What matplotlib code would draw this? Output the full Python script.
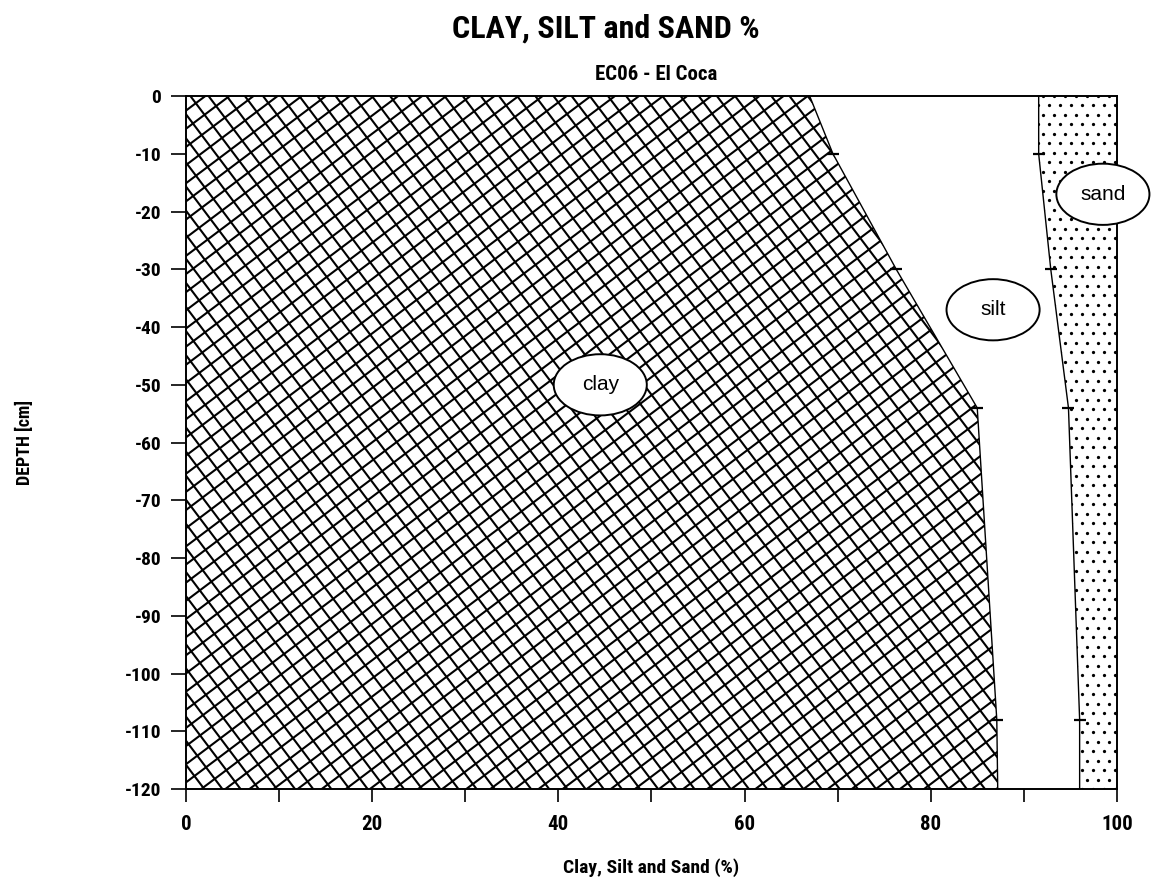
import numpy as np
import matplotlib
matplotlib.use("Agg")
import matplotlib.pyplot as plt
from matplotlib.patches import Ellipse
from matplotlib.collections import LineCollection
from matplotlib.transforms import IdentityTransform

# Data
depth = [0, -10, -30, -54, -108, -120]            # cm
clay = [67.0, 69.5, 76.3, 85.0, 87.1, 87.2]       # % clay (boundary clay/silt)
clay_silt = [91.6, 91.6, 92.9, 94.8, 96.0, 96.0]  # % clay + silt (boundary silt/sand)
labels = ["clay", "silt", "sand"]
label_x = [44.5, 86.7, 98.5]
label_y = [-50, -37, -17]
x_ticks = [0, 10, 20, 30, 40, 50, 60, 70, 80, 90, 100]
x_ticklabels = ["0", "", "20", "", "40", "", "60", "", "80", "", "100"]
y_ticks = [0, -10, -20, -30, -40, -50, -60, -70, -80, -90, -100, -110, -120]

FONT = ["Liberation Sans", "DejaVu Sans"]
COND = ["Roboto Condensed", "Liberation Sans", "DejaVu Sans"]
DPI = 100

fig = plt.figure(figsize=(11.52, 8.86), dpi=DPI)
ax = fig.add_axes([0.1615, 0.1095, 0.808, 0.782])
ax.set_xlim(0, 100)
ax.set_ylim(-120, 0)

full = [100] * len(depth)
zero = [0] * len(depth)
clay_poly = ax.fill_betweenx(depth, zero, clay, facecolor="white", linewidth=0)
sand_poly = ax.fill_betweenx(depth, clay_silt, full, facecolor="white", linewidth=0)

# --- texture: cross-hatching for clay (pixel-space pattern, clipped to the clay area)
bb = ax.bbox
corners = np.array([[bb.x0, bb.y0], [bb.x1, bb.y0], [bb.x0, bb.y1], [bb.x1, bb.y1]])
segs = []
SP = 14.5
for ang in (37.0, -53.0):
    th = np.radians(ang)
    d = np.array([np.cos(th), np.sin(th)])
    n = np.array([-np.sin(th), np.cos(th)])
    proj = corners @ n
    L = 3000
    for c in np.arange(proj.min() - SP, proj.max() + SP, SP):
        p = c * n
        segs.append([p - L * d, p + L * d])
lc = LineCollection(segs, colors="black", linewidths=1.5, transform=IdentityTransform(),
                    zorder=2)
lc.set_clip_path(clay_poly.get_paths()[0], ax.transData)
ax.add_collection(lc, autolim=False)

# --- texture: staggered dots for sand
xs, ys = [], []
row = 0
for yy in np.arange(bb.y0 - 10, bb.y1 + 10, 9.5):
    off = 5.5 if row % 2 else 0.0
    for xx in np.arange(bb.x0 - 12 + off, bb.x1 + 12, 11.0):
        xs.append(xx)
        ys.append(yy)
    row += 1
dots = ax.scatter(xs, ys, s=5.5, c="black", marker="o", linewidths=0,
                  transform=IdentityTransform(), zorder=2)
dots.set_clip_path(sand_poly.get_paths()[0], ax.transData)

# boundaries and measurement ticks
ax.plot(clay, depth, color="black", lw=1.0, zorder=3)
ax.plot(clay_silt, depth, color="black", lw=1.0, zorder=3)
ax.plot(clay[1:-1], depth[1:-1], ls="none", marker="_", ms=8, mew=1.6, color="black", zorder=3)
ax.plot(clay_silt[1:-1], depth[1:-1], ls="none", marker="_", ms=8, mew=1.6, color="black", zorder=3)

for lab, lx, ly in zip(labels, label_x, label_y):
    ax.add_patch(Ellipse((lx, ly), width=10, height=10.6, facecolor="white",
                         edgecolor="black", lw=1.4, zorder=5, clip_on=False))
    ax.text(lx, ly, lab, ha="center", va="center", fontsize=15, zorder=6, family=FONT)

ax.set_xticks(x_ticks)
ax.set_xticklabels(x_ticklabels, fontsize=15, fontweight="bold", family=COND)
ax.set_yticks(y_ticks)
ax.set_yticklabels([str(t) for t in y_ticks], fontsize=14, fontweight="bold", family=COND)
ax.tick_params(axis="x", direction="out", length=9, width=1.2, pad=10)
ax.tick_params(axis="y", direction="out", length=11, width=1.2, pad=7)
for s in ax.spines.values():
    s.set_linewidth(1.4)
    s.set_zorder(4)

ax.set_xlabel("Clay, Silt and Sand (%)", fontsize=14, fontweight="bold",
              family=COND, labelpad=17)
ax.set_ylabel("DEPTH [cm]", fontsize=13, fontweight="bold", family=COND, labelpad=65)

fig.text(0.526, 0.968, "CLAY, SILT and SAND %", ha="center", va="center",
         fontsize=23, fontweight="bold", family=COND)
fig.text(0.5695, 0.916, "EC06 - El Coca", ha="center", va="center",
         fontsize=15, fontweight="bold", family=COND)

fig.savefig("out.png", dpi=DPI)
